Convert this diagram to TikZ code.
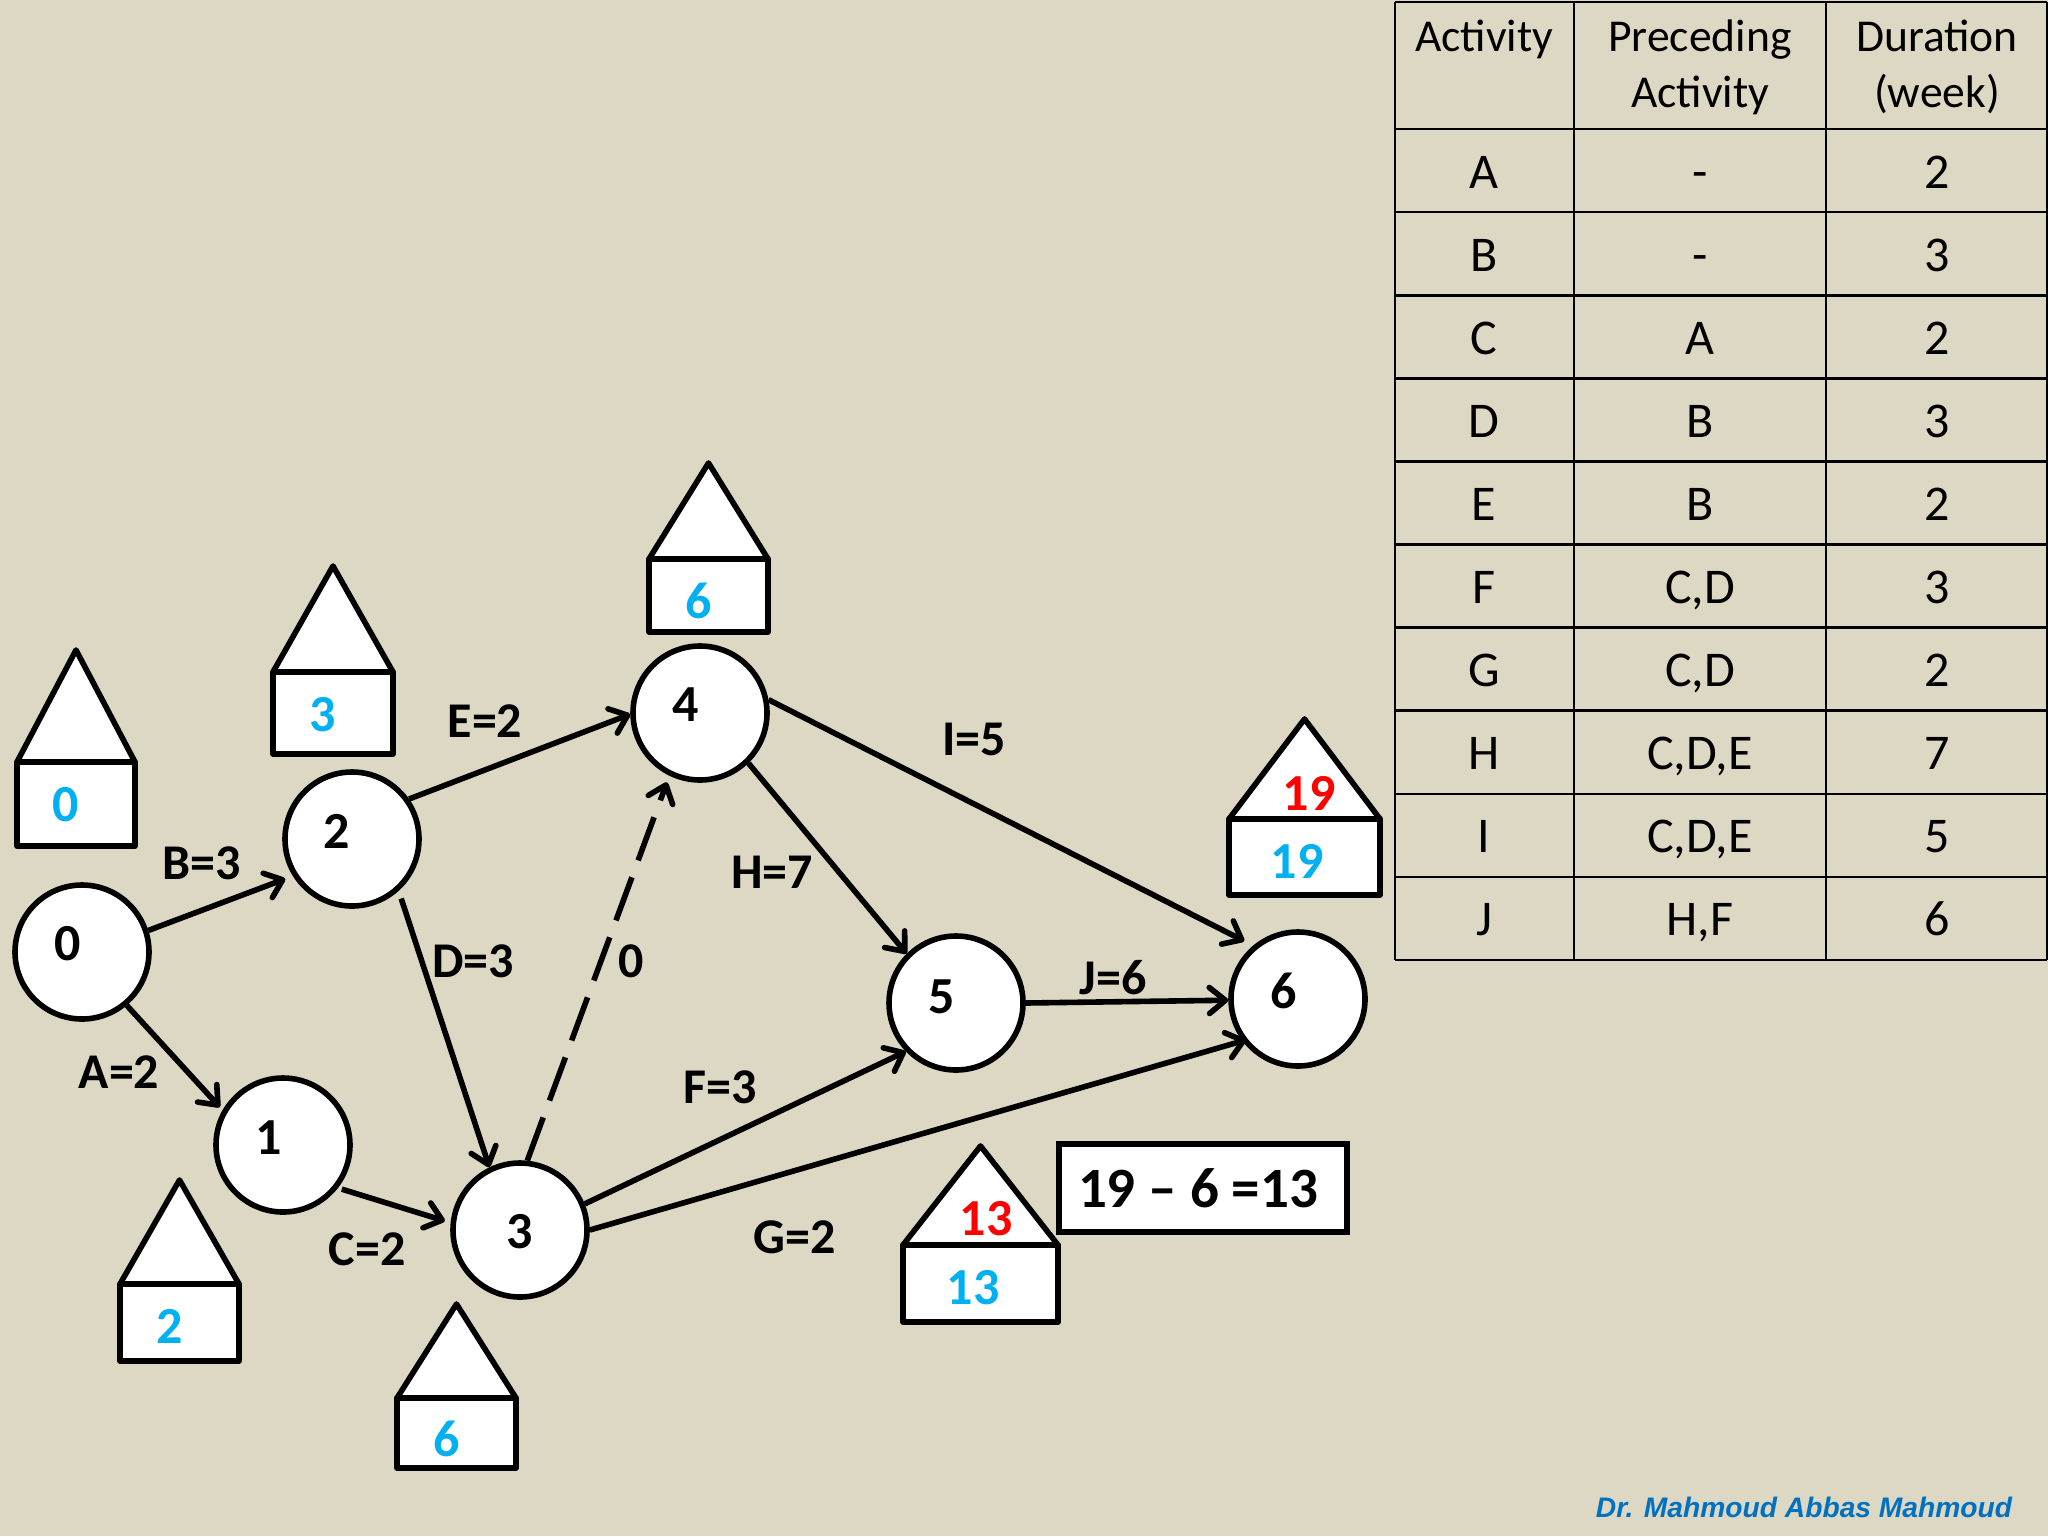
\documentclass[tikz,border=0pt]{standalone}
\usepackage{fontspec}
\setmainfont{Carlito}
\newfontfamily\signfont{Liberation Sans}
\usetikzlibrary{arrows.meta}
\definecolor{slideBg}{HTML}{DCD8C3}
\definecolor{earlyBlue}{HTML}{00B0F0}
\definecolor{lateRed}{HTML}{FF0000}
\definecolor{signBlue}{HTML}{0070C0}
\tikzset{
eventstyle/.style={circle, minimum size=67pt, inner sep=0pt, draw, line width=2.8pt, fill=white},
edgestyle/.style={line width=2.8pt, -{Straight Barb[length=8pt, width=13pt, round]}},
housestyle/.style={draw, line width=2.8pt, fill=white, line join=round},
numstyle/.style={font=\fontsize{26}{26}\selectfont\bfseries, inner sep=0pt},
labelstyle/.style={font=\fontsize{25}{25}\selectfont\bfseries, inner sep=0pt},
cellstyle/.style={font=\fontsize{25}{25}\selectfont, inner sep=0pt, anchor=base},
headstyle/.style={font=\fontsize{22.8}{22.8}\selectfont, inner sep=0pt, anchor=base},
tablestyle/.style={line width=1.3pt, black}
}
\newcommand{\event}[6]{
  \node [eventstyle] (#1) at (#2, #3) {};
  \node [numstyle] (#1num) at (#5, #6) {#4};
}
\newcommand{\house}[5]{
  \pgfmathsetmacro\housemid{(#1 + #2) / 2}
  \draw [housestyle] (#1, #4) -- (\housemid, #3) -- (#2, #4) -- cycle;
  \draw [housestyle] (#1, #4) rectangle (#2, #5);
}
\begin{document}
\begin{tikzpicture}[x=0.5pt, y=-0.5pt]
\fill [slideBg] (0, 0) rectangle (2048, 1536);
\useasboundingbox (0, 0) rectangle (2048, 1536);

% table
\foreach \x in {1395, 1574, 1826, 2047}
  \draw [tablestyle] (\x, 2) -- (\x, 960);
\draw [tablestyle] (1395, 2) -- (2047, 2);
\foreach \i in {0,...,10}
  \draw [tablestyle] (1395, 129 + \i * 83.1) -- (2047, 129 + \i * 83.1);
\node [headstyle] (headA) at (1484, 52) {Activity};
\node [headstyle] (headB) at (1700, 52) {Preceding};
\node [headstyle] (headC) at (1700, 107) {Activity};
\node [headstyle] (headD) at (1937, 52) {Duration};
\node [headstyle] (headE) at (1937, 107) {(week)};
\foreach \act/\pre/\dur [count=\r from 0] in {A/-/2, B/-/3, C/A/2, D/B/3, E/B/2, F/{C,D}/3, G/{C,D}/2, H/{C,D,E}/7, I/{C,D,E}/5, J/{H,F}/6}
{
  \node [cellstyle] (act\r) at (1484, 188 + \r * 83.1) {\act};
  \node [cellstyle] (pre\r) at (1700, 188 + \r * 83.1) {\pre};
  \node [cellstyle] (dur\r) at (1937, 188 + \r * 83.1) {\dur};
}

% houses
\house {17}{135}{650}{762}{846}
\house {273}{393}{566}{672}{754}
\house {649}{768}{463}{559}{632}
\house {120}{239}{1180}{1284}{1361}
\house {397}{516}{1304}{1398}{1468}
\house {1229}{1380}{719}{819}{895}
\house {903}{1058}{1146}{1245}{1322}

\node [numstyle, earlyBlue] (early0) at (66, 805) {0};
\node [numstyle, earlyBlue] (early2) at (323, 715) {3};
\node [numstyle, earlyBlue] (early4) at (699, 601) {6};
\node [numstyle, earlyBlue] (early1) at (170, 1326) {2};
\node [numstyle, earlyBlue] (early3) at (447, 1439) {6};
\node [numstyle, earlyBlue] (early6) at (1297, 861) {19};
\node [numstyle, earlyBlue] (early5) at (973, 1288) {13};
\node [numstyle, lateRed] (late6) at (1309, 793) {19};
\node [numstyle, lateRed] (late5) at (986, 1219) {13};

\node [draw, line width=2.8pt, fill=white, minimum width=144pt, minimum height=44pt, inner sep=0pt, font=\fontsize{28.5}{28.5}\selectfont\bfseries] (slack) at (1203, 1188) {19 – 6 =13\hspace*{5pt}};

% events
\event {n0}{82}{952}{0}{68}{944}
\event {n2}{352}{839}{2}{337}{831}
\event {n1}{283}{1145}{1}{269}{1138}
\event {n3}{520}{1230}{3}{520}{1232}
\event {n4}{700}{713}{4}{686}{705}
\event {n5}{956}{1003}{5}{942}{997}
\event {n6}{1298}{999}{6}{1284}{991}

% activities
\draw [edgestyle, shorten >=4pt] (n0.18) -- (n2.212);
\draw [edgestyle, shorten >=2pt] (n0.310) -- (n1.150);
\draw [edgestyle, shorten >=3pt, shorten <=2pt] (n1.322) -- (n3.174);
\draw [edgestyle] (n2.35) -- (n4.181);
\draw [edgestyle, shorten <=4pt] (n2.312) -- (n3.116);
\draw [edgestyle, dash pattern=on 23pt off 9pt, shorten >=3.5pt] (n3.84) -- (n4.244);
\draw [edgestyle] (n3.22) -- (n5.224);
\draw [edgestyle, shorten >=-2pt] (n3.0) -- (n6.217);
\draw [edgestyle] (n4.314) -- (n5.135);
\draw [edgestyle, shorten >=5pt] (n4.11) -- (n6.130);
\draw [edgestyle] (n5.0) -- (n6.181);

\node [labelstyle] (labA) at (119, 1072) {A=2};
\node [labelstyle] (labB) at (202, 863) {B=3};
\node [labelstyle] (labC) at (367, 1249) {C=2};
\node [labelstyle] (labD) at (473, 961) {D=3};
\node [labelstyle] (labE) at (485, 721) {E=2};
\node [labelstyle] (labF) at (720, 1087) {F=3};
\node [labelstyle] (labG) at (795, 1237) {G=2};
\node [labelstyle] (labH) at (772, 872) {H=7};
\node [labelstyle] (labI) at (974, 739) {I=5};
\node [labelstyle] (labJ) at (1113, 978) {J=6};
\node [labelstyle] (labZero) at (631, 961) {0};

\node [signBlue, inner sep=0pt, font=\signfont\fontsize{14.1}{14.1}\selectfont\bfseries\itshape] (sign) at (1804, 1507) {Dr. Mahmoud Abbas Mahmoud};
\end{tikzpicture}
\end{document}
